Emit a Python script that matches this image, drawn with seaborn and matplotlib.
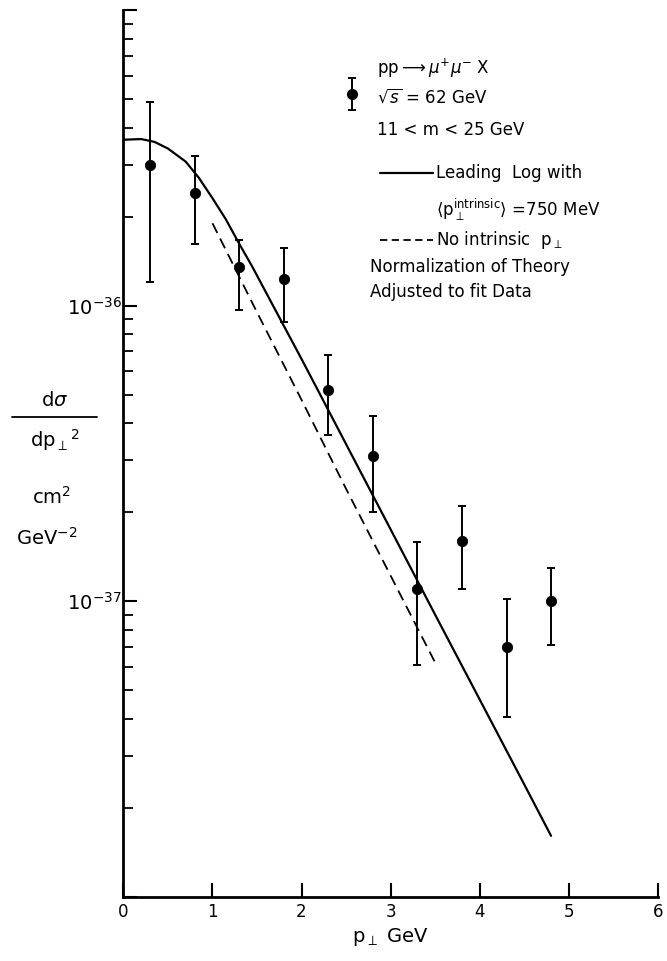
import matplotlib
matplotlib.use("Agg")
import matplotlib.pyplot as plt
from matplotlib.lines import Line2D
import seaborn as sns
import pandas as pd

# measured points: p_T (GeV), d sigma / d p_T^2 (cm^2 GeV^-2)
pt_vals = [0.3, 0.8, 1.3, 1.8, 2.3, 2.8, 3.3, 3.8, 4.3, 4.8]
sigma_vals = [3.0e-36, 2.4e-36, 1.35e-36, 1.23e-36, 5.2e-37, 3.1e-37, 1.1e-37, 1.6e-37, 7.0e-38, 1.0e-37]
sigma_hi = [4.9e-36, 3.2e-36, 1.67e-36, 1.57e-36, 6.8e-37, 4.25e-37, 1.59e-37, 2.1e-37, 1.02e-37, 1.3e-37]
sigma_lo = [1.2e-36, 1.62e-36, 9.7e-37, 8.8e-37, 3.64e-37, 2.0e-37, 6.1e-38, 1.1e-37, 4.05e-38, 7.1e-38]

# leading log with intrinsic p_T = 750 MeV
ll_pt = [0.0, 0.2, 0.35, 0.5, 0.7, 0.85, 1.0, 1.15, 1.3, 1.45, 1.6,
         2.0, 2.5, 3.0, 3.5, 4.0, 4.5, 4.8]
ll_sigma = [3.64e-36, 3.66e-36, 3.58e-36, 3.4e-36, 3.07e-36, 2.7e-36, 2.31e-36, 1.96e-36,
            1.62e-36, 1.35e-36, 1.11e-36, 6.6e-37, 3.4e-37, 1.75e-37, 9.0e-38, 4.65e-38,
            2.4e-38, 1.61e-38]

# no intrinsic p_T
ni_pt = [1.0, 1.5, 2.0, 2.5, 3.0, 3.5]
ni_sigma = [1.9e-36, 9.5e-37, 4.8e-37, 2.4e-37, 1.22e-37, 6.2e-38]

x_ticks = [0, 1, 2, 3, 4, 5, 6]
y_ticks = [1e-38, 1e-37, 1e-36, 1e-35]
y_ticklabels = ["", r"$10^{-37}$", r"$10^{-36}$", ""]

sns.set_style("ticks", {"axes.edgecolor": "black", "text.color": "black",
                        "xtick.color": "black", "ytick.color": "black",
                        "axes.labelcolor": "black"})
plt.rcParams["font.family"] = ["DejaVu Sans"]
plt.rcParams["mathtext.fontset"] = "dejavusans"

data = pd.DataFrame({"pt": pt_vals, "sigma": sigma_vals})
ll = pd.DataFrame({"pt": ll_pt, "sigma": ll_sigma})
ni = pd.DataFrame({"pt": ni_pt, "sigma": ni_sigma})

fig = plt.figure(figsize=(6.67, 9.61), dpi=100)
ax = fig.add_axes([0.1849, 0.0666, 0.8016, 0.923])

sns.lineplot(data=ll, x="pt", y="sigma", ax=ax, color="black", lw=1.6)
sns.lineplot(data=ni, x="pt", y="sigma", ax=ax, color="black", lw=1.3,
             linestyle=(0, (6, 3.5)))

yerr = [[s - lo for s, lo in zip(sigma_vals, sigma_lo)],
        [hi - s for s, hi in zip(sigma_vals, sigma_hi)]]
ax.errorbar(pt_vals, sigma_vals, yerr=yerr, fmt="none", ecolor="black",
            elinewidth=1.4, capsize=3, capthick=1.4)
sns.scatterplot(data=data, x="pt", y="sigma", ax=ax, color="black", s=55,
                edgecolor="black", zorder=5)

ax.set_yscale("log")
ax.set_xlim(0, 6)
ax.set_ylim(1e-38, 1e-35)
ax.set_xticks(x_ticks)
ax.set_xticklabels([str(t) for t in x_ticks], fontsize=12)
ax.set_yticks(y_ticks)
ax.set_yticklabels(y_ticklabels, fontsize=14)
ax.tick_params(axis="both", which="major", direction="in", length=10, width=1.5)
ax.tick_params(axis="y", which="minor", direction="in", length=7, width=1.3)
ax.tick_params(axis="y", which="major", pad=1)
ax.tick_params(axis="x", which="major", pad=4)
ax.set_xlabel(r"p$_\perp$ GeV", fontsize=14, labelpad=4)
ax.set_ylabel("")
sns.despine(ax=ax)
for side in ["left", "bottom"]:
    ax.spines[side].set_linewidth(2)

# legend block
tr = ax.transAxes
fs = 12
ax.text(0.4745, 0.9346, r"pp$\longrightarrow\mu^{+}\mu^{-}$ X", transform=tr, fontsize=fs, va="center")
ax.errorbar([0.427], [0.9053], yerr=[[0.018], [0.018]], fmt="o", color="black", ms=7,
            elinewidth=1.4, capsize=3, capthick=1.4, transform=tr, clip_on=False)
ax.text(0.4745, 0.9011, r"$\sqrt{s}$ = 62 GeV", transform=tr, fontsize=fs, va="center")
ax.text(0.4745, 0.8647, "11 < m < 25 GeV", transform=tr, fontsize=fs, va="center")
ax.plot([0.4801, 0.5792], [0.8162, 0.8162], color="black", lw=1.6, transform=tr)
ax.text(0.585, 0.8162, "Leading  Log with", transform=tr, fontsize=fs, va="center")
ax.text(0.585, 0.7745, r"$\langle\mathrm{p}_\perp^{\mathrm{intrinsic}}\rangle$ =750 MeV",
        transform=tr, fontsize=fs, va="center")
ax.plot([0.4801, 0.5792], [0.7407, 0.7407], color="black", lw=1.3,
        linestyle=(0, (4, 2.5)), transform=tr)
ax.text(0.585, 0.7407, r"No intrinsic  p$_\perp$", transform=tr, fontsize=fs, va="center")
ax.text(0.4612, 0.7103, "Normalization of Theory", transform=tr, fontsize=fs, va="center")
ax.text(0.4612, 0.6821, "Adjusted to fit Data", transform=tr, fontsize=fs, va="center")

# y axis label as a stacked fraction
W, H = 667.0, 961.0
fig.text(55 / W, 1 - 400 / H, r"d$\sigma$", fontsize=14, ha="center", va="center")
fig.add_artist(Line2D([12 / W, 97 / W], [1 - 417 / H, 1 - 417 / H], color="black", lw=1.3))
fig.text(55 / W, 1 - 440 / H, r"dp$_\perp$$^2$", fontsize=14, ha="center", va="center")
fig.text(52 / W, 1 - 497 / H, r"cm$^2$", fontsize=14, ha="center", va="center")
fig.text(47 / W, 1 - 538 / H, r"GeV$^{-2}$", fontsize=14, ha="center", va="center")

fig.savefig("out.png", dpi=100)
